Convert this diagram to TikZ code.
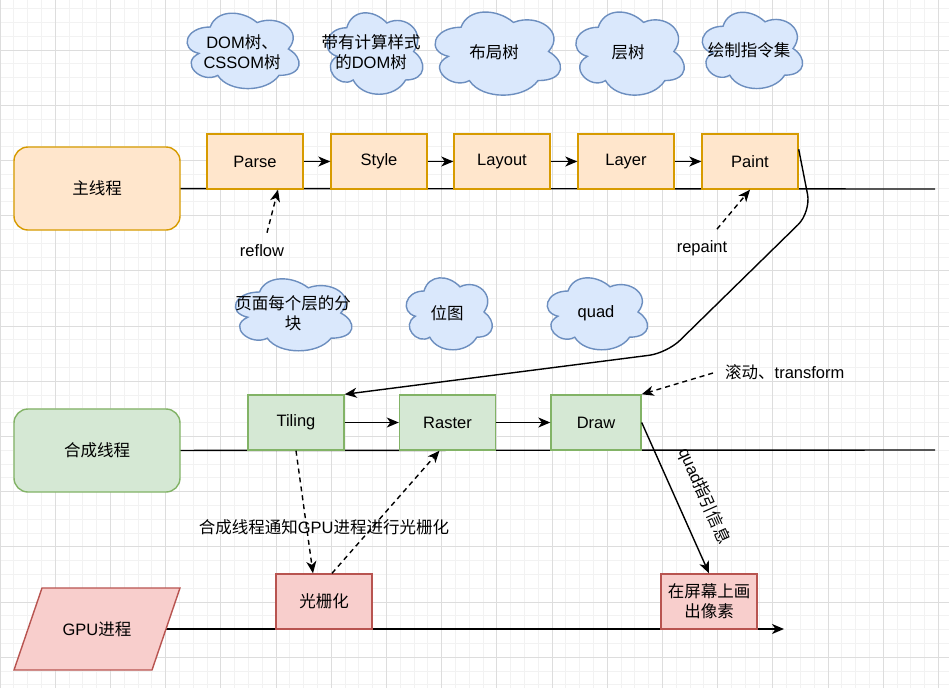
\documentclass[tikz,border=0pt]{standalone}
\usepackage{fontspec}
\setmainfont{Liberation Sans}
\newfontfamily\cjk{Noto Sans CJK SC}
\usetikzlibrary{arrows.meta,backgrounds}
\newcommand\zh[1]{{\cjk #1}}
\definecolor{orfill}{HTML}{FFE6CC}\definecolor{orline}{HTML}{D79B00}
\definecolor{grfill}{HTML}{D5E8D4}\definecolor{grline}{HTML}{82B366}
\definecolor{rdfill}{HTML}{F8CECC}\definecolor{rdline}{HTML}{B85450}
\definecolor{clfill}{HTML}{DAE8FC}\definecolor{clline}{HTML}{6C8EBF}
\definecolor{minorgrid}{HTML}{F2F2F2}\definecolor{majorgrid}{HTML}{DDDDDD}
\tikzset{
  every node/.style={font=\fontsize{16.5}{20}\selectfont, text=black},
  box/.style={draw, line width=1.4pt, minimum width=96pt, minimum height=55pt, inner sep=0pt},
  obox/.style={box, fill=orfill, draw=orline},
  gbox/.style={box, fill=grfill, draw=grline},
  rbox/.style={box, fill=rdfill, draw=rdline},
  thread/.style={draw, line width=1.4pt, rounded corners=14pt, minimum width=166pt, minimum height=83pt, inner sep=0pt},
  arr/.style={line width=1.4pt, -{Stealth[length=12pt,width=10pt,inset=3.5pt]}},
  darr/.style={arr, dash pattern=on 5pt off 4pt},
  timeline/.style={line width=1.4pt},
  cloudsty/.style={fill=clfill, draw=clline, line width=1.4pt},
  lbl/.style={inner sep=0pt, align=center},
}
\newcommand\cloudpath[4]{%
  \begin{scope}[shift={(#1,#2)},x=#3pt,y=-#4pt]
    \draw[cloudsty] (0.25,0.25) .. controls (0.05,0.25) and (0,0.5) .. (0.16,0.55)
      .. controls (0,0.66) and (0.18,0.9) .. (0.31,0.8)
      .. controls (0.4,1) and (0.7,1) .. (0.8,0.8)
      .. controls (1,0.8) and (1,0.6) .. (0.875,0.5)
      .. controls (1,0.3) and (0.8,0.1) .. (0.625,0.2)
      .. controls (0.5,0.05) and (0.3,0.05) .. (0.25,0.25) -- cycle;
  \end{scope}}
\begin{document}
\begin{tikzpicture}[x=1pt,y=-1pt]
\useasboundingbox (0,0) rectangle (949,688);
\begin{scope}[on background layer]
  \clip (0,0) rectangle (949,688);
  \fill[white] (0,0) rectangle (949,688);
  \foreach \i in {0,...,68} {\draw[minorgrid, line width=1pt] (\i*13.8,0) -- (\i*13.8,688);}
  \foreach \i in {0,...,49} {\draw[minorgrid, line width=1pt] (0,8.6+\i*13.8) -- (949,8.6+\i*13.8);}
  \foreach \i in {0,...,17} {\draw[majorgrid, line width=1pt] (\i*55.2,0) -- (\i*55.2,688);}
  \foreach \i in {-1,...,11} {\draw[majorgrid, line width=1pt] (0,50+\i*55.2) -- (949,50+\i*55.2);}
\end{scope}

% clouds
\cloudpath{179}{5}{125}{88}
\cloudpath{320}{4}{107}{95}
\cloudpath{426}{3}{140}{97}
\cloudpath{568}{3}{121}{97}
\cloudpath{695}{4}{112}{89}
\cloudpath{227}{271}{130}{84}
\cloudpath{400}{270}{96}{84}
\cloudpath{540}{270}{112}{84}
\node[lbl] (c1) at (242,52) {DOM\zh{树、}\\CSSOM\zh{树}};
\node[lbl] (c2) at (371,52) {\zh{带有计算样式}\\\zh{的}DOM\zh{树}};
\node[lbl] (c3) at (494,52) {\zh{布局树}};
\node[lbl] (c4) at (628,52) {\zh{层树}};
\node[lbl] (c5) at (749,50) {\zh{绘制指令集}};
\node[lbl] (c6) at (293,313) {\zh{页面每个层的分}\\\zh{块}};
\node[lbl] (c7) at (447,313) {\zh{位图}};
\node[lbl] (c8) at (596,313) {quad};

% threads
\node[thread, fill=orfill, draw=orline] (mainthr) at (97,188.5) {\zh{主线程}};
\node[thread, fill=grfill, draw=grline] (compthr) at (97,450.5) {\zh{合成线程}};
\draw[line width=1.4pt, fill=rdfill, draw=rdline] (42,588) -- (180,588) -- (152,670) -- (14,670) -- cycle;
\node[lbl] (gpu) at (97,629) {GPU\zh{进程}};

\coordinate (mainend) at (935,189);
\coordinate (compend) at (935,450);
\coordinate (gpuend) at (784,629);

% main thread boxes
\node[obox] (parse) at (255,161.5) {Parse};
\node[obox] (style) at (379,161.5) {Style};
\node[obox] (layout) at (502,161.5) {Layout};
\node[obox] (layer) at (626,161.5) {Layer};
\node[obox] (paint) at (750,161.5) {Paint};

% compositor boxes
\node[gbox] (tiling) at (296,422.5) {Tiling};
\node[gbox] (raster) at (447.5,422.5) {Raster};
\node[gbox, minimum width=90pt] (drawb) at (596,422.5) {Draw};

% gpu boxes
\node[rbox] (raster2) at (324,601.5) {\zh{光栅化}};
\node[rbox, align=center] (screen) at (709,601.5) {\zh{在屏幕上画}\\\zh{出像素}};

\begin{scope}[on background layer]
  \draw[timeline] (mainthr.center) -- (mainend);
  \draw[timeline] (compthr.center) -- (compend);
  \draw[arr] (gpu.center) -- (gpuend);
\end{scope}

% labels
\node[lbl] (reflow) at (262,251) {reflow};
\node[lbl] (repaint) at (702,248) {repaint};
\node[lbl, anchor=west] (scroll) at (725,372) {\zh{滚动、}transform};
\node[lbl] (notify) at (324,527) {\zh{合成线程通知}GPU\zh{进程进行光栅化}};
\node[lbl, rotate=-66] (quadinfo) at (704,496) {quad\zh{指引信息}};

% connectors
\draw[arr] (parse) -- (style);
\draw[arr] (style) -- (layout);
\draw[arr] (layout) -- (layer);
\draw[arr] (layer) -- (paint);
\draw[arr] (tiling) -- (raster);
\draw[arr] (raster) -- (drawb);
\draw[arr, rounded corners=18pt] ([shift={(0,16)}]paint.north east) -- (811,212) -- (667,353) -- (tiling.north east);
\draw[arr] (drawb.east) -- (screen.north);
\draw[darr] ([shift={(5,-12)}]reflow.north) -- ([shift={(23,0)}]parse.south);
\draw[darr] ([shift={(15,-11)}]repaint.north) -- (paint.south);
\draw[darr] ([shift={(-12,1)}]scroll.west) -- (drawb.north east);
\draw[darr] (tiling.south) -- ([shift={(-11,0)}]raster2.north);
\draw[darr] ([shift={(8,0)}]raster2.north) -- ([shift={(-8,0)}]raster.south);
\end{tikzpicture}
\end{document}
